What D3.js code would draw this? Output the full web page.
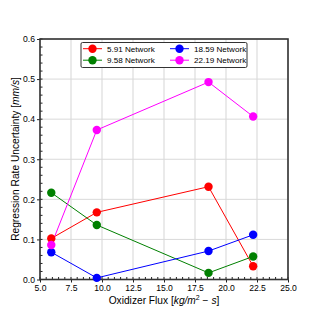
<!DOCTYPE html>
<html><head><meta charset="utf-8">
<script src="https://cdn.jsdelivr.net/npm/d3@7"></script>
<style>body{margin:0;background:#fff}svg{display:block;font-family:"Liberation Sans",Arial,sans-serif}</style>
</head><body>
<svg id="c" width="320" height="320"></svg>
<script>
const xValues = [5.91, 9.58, 18.59, 22.19];
const seriesNames = ["5.91 Network", "9.58 Network", "18.59 Network", "22.19 Network"];
const seriesColors = ["#ff0000", "#008000", "#0000ff", "#ff00ff"];
const red = [0.1025, 0.1675, 0.2315, 0.033];
const green = [0.2165, 0.136, 0.0165, 0.0575];
const blue = [0.068, 0.004, 0.071, 0.1115];
const magenta = [0.086, 0.373, 0.4925, 0.4065];
const xTicks = [5.0, 7.5, 10.0, 12.5, 15.0, 17.5, 20.0, 22.5, 25.0];
const yTicks = [0.0, 0.1, 0.2, 0.3, 0.4, 0.5, 0.6];

const series = [red, green, blue, magenta];
const svg = d3.select("#c");
const L = 40, R = 288, T = 39, B = 279.5;
const x = d3.scaleLinear().domain([5, 25]).range([L, R]);
const y = d3.scaleLinear().domain([0, 0.6]).range([B, T]);

// grid
svg.append("g").selectAll("line").data(xTicks).join("line")
  .attr("x1", d => x(d)).attr("x2", d => x(d)).attr("y1", T).attr("y2", B)
  .attr("stroke", "#e3e3e3").attr("stroke-width", 1.5);
svg.append("g").selectAll("line").data(yTicks).join("line")
  .attr("y1", d => y(d)).attr("y2", d => y(d)).attr("x1", L).attr("x2", R)
  .attr("stroke", "#d9d9d9").attr("stroke-width", 1);

// minor ticks (inward)
const xMinor = d3.range(5, 25.01, 0.5);
const yMinor = d3.range(0, 0.6001, 0.02);
svg.append("g").selectAll("line").data(xMinor).join("line")
  .attr("x1", d => x(d)).attr("x2", d => x(d)).attr("y1", B).attr("y2", B - 2.5)
  .attr("stroke", "#222").attr("stroke-width", 1);
svg.append("g").selectAll("line").data(yMinor).join("line")
  .attr("y1", d => y(d)).attr("y2", d => y(d)).attr("x1", L).attr("x2", L + 2.5)
  .attr("stroke", "#222").attr("stroke-width", 1);

// axes
const xAxis = d3.axisBottom(x).tickValues(xTicks).tickFormat(d3.format(".1f")).tickSize(3).tickPadding(2);
const yAxis = d3.axisLeft(y).tickValues(yTicks).tickFormat(d3.format(".1f")).tickSize(3).tickPadding(2);
const gx = svg.append("g").attr("transform", `translate(0,${B})`).call(xAxis);
const gy = svg.append("g").attr("transform", `translate(${L},0)`).call(yAxis);
[gx, gy].forEach(g => {
  g.select(".domain").remove();
  g.selectAll("text").attr("font-size", 8.6).attr("fill", "#000").attr("font-family", "Liberation Sans, Arial, sans-serif");
  g.selectAll(".tick line").attr("stroke", "#222");
});

// frame
svg.append("rect").attr("x", L).attr("y", T).attr("width", R - L).attr("height", B - T)
  .attr("fill", "none").attr("stroke", "#333").attr("stroke-width", 1.6);

// lines and points
const line = d3.line().x((d, i) => x(xValues[i])).y(d => y(d));
series.forEach((s, k) => {
  svg.append("path").datum(s).attr("d", line).attr("fill", "none")
    .attr("stroke", seriesColors[k]).attr("stroke-width", 1);
});
series.forEach((s, k) => {
  svg.append("g").selectAll("circle").data(s).join("circle")
    .attr("cx", (d, i) => x(xValues[i])).attr("cy", d => y(d)).attr("r", 4.2)
    .attr("fill", seriesColors[k]);
});

// legend
const lg = svg.append("g");
lg.append("rect").attr("x", 81).attr("y", 42.5).attr("width", 166).attr("height", 25).attr("rx", 1.5)
  .attr("fill", "#fff").attr("stroke", "#333").attr("stroke-width", 1);
const legPos = [[83, 48.7], [83, 60.2], [170, 48.7], [170, 60.2]];
seriesNames.forEach((n, k) => {
  const [lx, ly] = legPos[k];
  lg.append("line").attr("x1", lx).attr("x2", lx + 19).attr("y1", ly).attr("y2", ly)
    .attr("stroke", seriesColors[k]).attr("stroke-width", 1);
  lg.append("circle").attr("cx", lx + 9.5).attr("cy", ly).attr("r", 4.2).attr("fill", seriesColors[k]);
  lg.append("text").attr("x", lx + 24).attr("y", ly + 3).attr("font-size", 8.1).attr("fill", "#000").text(n);
});

// axis labels
const xl = svg.append("text").attr("x", 164).attr("y", 303.5).attr("text-anchor", "middle").attr("font-size", 10.2).attr("fill", "#000");
xl.append("tspan").text("Oxidizer Flux [");
xl.append("tspan").attr("font-style", "italic").text("kg/m");
xl.append("tspan").attr("font-size", 7).attr("dy", -4).text("2");
xl.append("tspan").attr("dy", 4).text(" \u2212 ");
xl.append("tspan").attr("font-style", "italic").text("s");
xl.append("tspan").text("]");

const yl = svg.append("text").attr("transform", "translate(19,159) rotate(-90)").attr("text-anchor", "middle").attr("font-size", 10.2).attr("fill", "#000");
yl.append("tspan").text("Regression Rate Uncertainty [");
yl.append("tspan").attr("font-style", "italic").text("mm/s");
yl.append("tspan").text("]");
</script>
</body></html>
